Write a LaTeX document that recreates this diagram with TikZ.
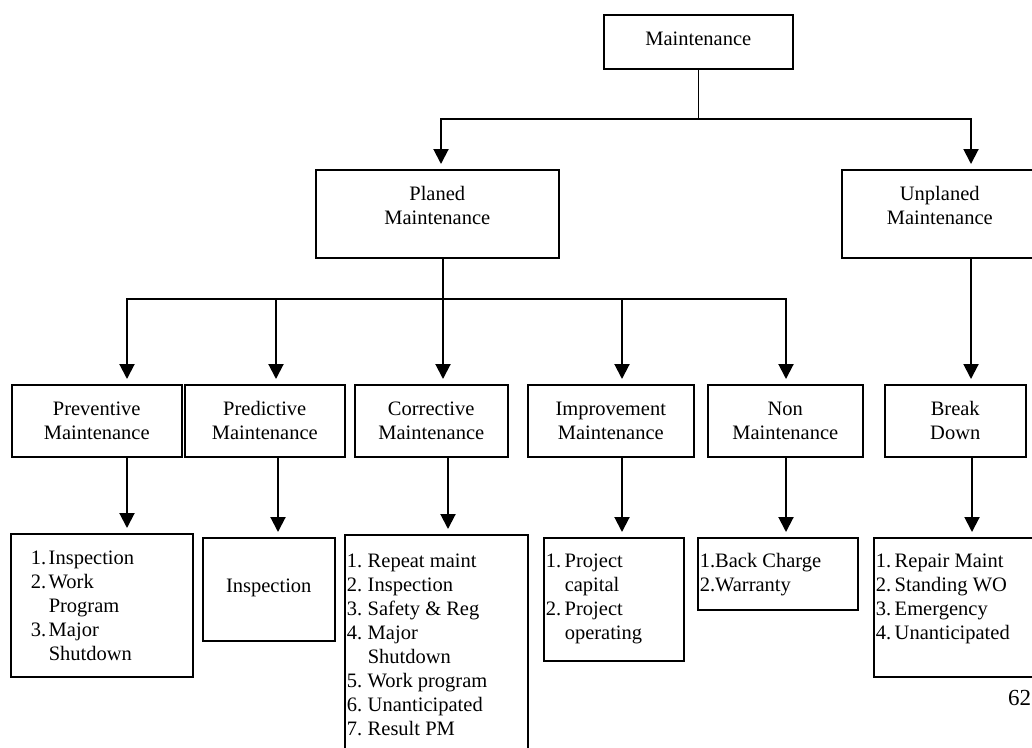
\documentclass[tikz,border=0pt]{standalone}
\usepackage{fontspec}
\setmainfont{Liberation Serif}
\usetikzlibrary{arrows.meta}
% centred box text: [first-baseline offset]{width}{height}{text}
\newcommand{\bxc}[4][31pt]{\parbox[c][#3][t]{#2}{\centering\rule{0pt}{#1}#4}}
% left-aligned list text
\newcommand{\bxl}[4][31pt]{\parbox[c][#3][t]{#2}{\raggedright\rule{0pt}{#1}#4}}
\newcommand{\itm}[3]{\hspace*{#1}\makebox[#2][l]{#3}}
\begin{document}
\begin{tikzpicture}[x=1pt,y=1pt,
  every node/.style={font=\fontsize{20.5pt}{24pt}\selectfont},
  box/.style={draw,line width=1.5pt,inner sep=0pt,anchor=north west},
  conn/.style={line width=1.4pt,line cap=rect},
  arr/.style={line width=2pt,-{Triangle[width=15pt,length=15pt]},shorten >=5pt}]
\path[fill=white,use as bounding box] (0,0) rectangle (1032,-747);

% level 0
\node[box] (M) at (603,-14) {\bxc{189pt}{54pt}{Maintenance}};
% level 1
\node[box] (P) at (315,-169) {\bxc{243pt}{88pt}{Planed\\Maintenance}};
\node[box] (U) at (841,-169) {\bxc{196pt}{88pt}{Unplaned\\Maintenance}};
% level 2
\node[box] (pm) at (11,-384)  {\bxc{170pt}{72pt}{Preventive\\Maintenance}};
\node[box] (pd) at (184,-384) {\bxc{160pt}{72pt}{Predictive\\Maintenance}};
\node[box] (cm) at (354,-384) {\bxc{153pt}{72pt}{Corrective\\Maintenance}};
\node[box] (im) at (527,-384) {\bxc{166pt}{72pt}{Improvement\\Maintenance}};
\node[box] (nm) at (707,-384) {\bxc{155pt}{72pt}{Non\\Maintenance}};
\node[box] (bd) at (884,-384) {\bxc{141pt}{72pt}{Break\\Down}};
% level 3
\node[box] (pl) at (10,-533) {\bxl{182pt}{143pt}{%
  \itm{20pt}{18pt}{1.}Inspection\\
  \itm{20pt}{18pt}{2.}Work\\
  \itm{20pt}{18pt}{}Program\\
  \itm{20pt}{18pt}{3.}Major\\
  \itm{20pt}{18pt}{}Shutdown}};
\node[box] (pi) at (202,-537) {\bxc[55pt]{132pt}{103pt}{Inspection}};
\node[box] (cl) at (344,-534) {\bxl[33pt]{183pt}{226pt}{%
  \itm{2pt}{21pt}{1.}Repeat maint\\
  \itm{2pt}{21pt}{2.}Inspection\\
  \itm{2pt}{21pt}{3.}Safety \& Reg\\
  \itm{2pt}{21pt}{4.}Major\\
  \itm{2pt}{21pt}{}Shutdown\\
  \itm{2pt}{21pt}{5.}Work program\\
  \itm{2pt}{21pt}{6.}Unanticipated\\
  \itm{2pt}{21pt}{7.}Result PM}};
\node[box] (il) at (543,-537) {\bxl[30pt]{140pt}{123pt}{%
  \itm{2pt}{19pt}{1.}Project\\
  \itm{2pt}{19pt}{}capital\\
  \itm{2pt}{19pt}{2.}Project\\
  \itm{2pt}{19pt}{}operating}};
\node[box] (nl) at (697,-537) {\bxl[30pt]{160pt}{72pt}{%
  \hspace*{2pt}1.Back Charge\\
  \hspace*{2pt}2.Warranty}};
\node[box] (bl) at (873,-537) {\bxl[30pt]{167pt}{139pt}{%
  \itm{2pt}{19pt}{1.}Repair Maint\\
  \itm{2pt}{19pt}{2.}Standing WO\\
  \itm{2pt}{19pt}{3.}Emergency\\
  \itm{2pt}{19pt}{4.}Unanticipated}};
\node[anchor=base west,inner sep=0pt,font=\fontsize{23pt}{27pt}\selectfont] (pg) at (1008,-705) {62};

% connectors level 0 -> 1
\coordinate (jL) at (441,-119);
\coordinate (jR) at (971,-119);
\draw[conn] (M.south) -- (M.south |- jL);
\draw[conn] (jL) -- (jR);
\draw[arr] (jL) -- (jL |- P.north);
\draw[arr] (jR) -- (jR |- U.north);

% connectors level 1 -> 2
\coordinate (k1) at (127,-299);
\coordinate (k2) at (276,-299);
\coordinate (k3) at (443,-299);
\coordinate (k4) at (622,-299);
\coordinate (k5) at (786,-299);
\draw[conn] (k3 |- P.south) -- (k3);
\draw[conn] (k1) -- (k5);
\draw[arr] (k1) -- (k1 |- pm.north);
\draw[arr] (k2) -- (k2 |- pd.north);
\draw[arr] (k3) -- (k3 |- cm.north);
\draw[arr] (k4) -- (k4 |- im.north);
\draw[arr] (k5) -- (k5 |- nm.north);
\draw[arr] (jR |- U.south) -- (jR |- bd.north);

% connectors level 2 -> 3
\coordinate (x1) at (127,0);
\coordinate (x2) at (278,0);
\coordinate (x3) at (448,0);
\coordinate (x4) at (622,0);
\coordinate (x5) at (786,0);
\coordinate (x6) at (972,0);
\draw[arr] (x1 |- pm.south) -- (x1 |- pl.north);
\draw[arr] (x2 |- pd.south) -- (x2 |- pi.north);
\draw[arr] (x3 |- cm.south) -- (x3 |- cl.north);
\draw[arr] (x4 |- im.south) -- (x4 |- il.north);
\draw[arr] (x5 |- nm.south) -- (x5 |- nl.north);
\draw[arr] (x6 |- bd.south) -- (x6 |- bl.north);
\end{tikzpicture}
\end{document}
